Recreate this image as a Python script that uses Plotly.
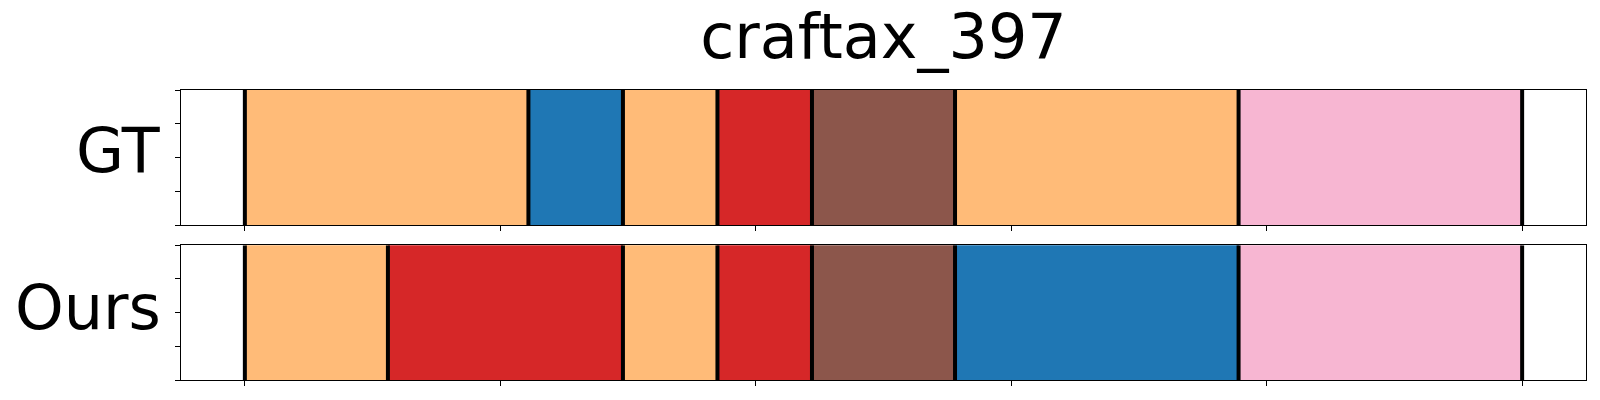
import plotly.graph_objects as go

# ---- data ----
title = "craftax_397"
row_labels = ["GT", "Ours"]
gt_bounds = [0, 111, 148, 185, 222, 278, 389, 500]
gt_labels = ["orange", "blue", "orange", "red", "brown", "orange", "pink"]
ours_bounds = [0, 56, 148, 185, 222, 278, 389, 500]
ours_labels = ["orange", "red", "orange", "red", "brown", "blue", "pink"]
x_ticks = [0, 100, 200, 300, 400, 500]
y_ticks = [0, 0.25, 0.5, 0.75, 1.0]

palette = {
    "orange": "#ffbb78",
    "blue": "#1f77b4",
    "red": "#d62728",
    "brown": "#8c564b",
    "pink": "#f7b6d2",
}

FONT = "DejaVu Sans"
fig = go.Figure()

rows = [(gt_bounds, gt_labels, "x", "y"), (ours_bounds, ours_labels, "x2", "y2")]
for bounds, labels, xa, ya in rows:
    starts = bounds[:-1]
    ends = bounds[1:]
    centers = [(s + e) / 2 for s, e in zip(starts, ends)]
    widths = [e - s for s, e in zip(starts, ends)]
    fig.add_trace(go.Bar(
        x=centers, y=[1] * len(centers), base=0, width=widths,
        marker=dict(color=[palette[c] for c in labels], line=dict(width=0)),
        xaxis=xa, yaxis=ya, showlegend=False, hoverinfo="skip",
    ))
    lx, ly = [], []
    for b in bounds:
        lx += [b, b, None]
        ly += [0, 1, None]
    fig.add_trace(go.Scatter(
        x=lx, y=ly, mode="lines", line=dict(color="black", width=4),
        xaxis=xa, yaxis=ya, showlegend=False, hoverinfo="skip", cliponaxis=False,
    ))

axis_common = dict(
    showgrid=False, zeroline=False, showline=True, mirror=True,
    linecolor="black", linewidth=1.3, ticks="outside", ticklen=5,
    tickwidth=1.3, tickcolor="black", showticklabels=False,
)
xr = [-25, 525]
H = 384
fig.update_layout(
    width=1584, height=H,
    margin=dict(l=173, r=6, t=82, b=12),
    plot_bgcolor="white", paper_bgcolor="white",
    bargap=0,
    font=dict(family=FONT, color="black"),
    xaxis=dict(domain=[0, 1], range=xr, tickvals=x_ticks, anchor="y", **axis_common),
    yaxis=dict(domain=[0.5345, 1], range=[0, 1], tickvals=y_ticks, anchor="x", **axis_common),
    xaxis2=dict(domain=[0, 1], range=xr, tickvals=x_ticks, anchor="y2", **axis_common),
    yaxis2=dict(domain=[0, 0.4645], range=[0, 1], tickvals=y_ticks, anchor="x2", **axis_common),
    title=dict(text=title, x=0.5, xref="paper", y=1 - 28.5 / H, yref="container",
               xanchor="center", yanchor="middle",
               font=dict(family=FONT, size=62, color="black")),
)

for lab, ya, ys in zip(row_labels, ["y domain", "y2 domain"], [6.5, 5.5]):
    fig.add_annotation(text=lab, xref="paper", x=0, xshift=-18, xanchor="right",
                       yref=ya, y=0.5, yanchor="middle", yshift=ys, showarrow=False,
                       font=dict(family=FONT, size=62, color="black"))

fig.write_html("out.html")
